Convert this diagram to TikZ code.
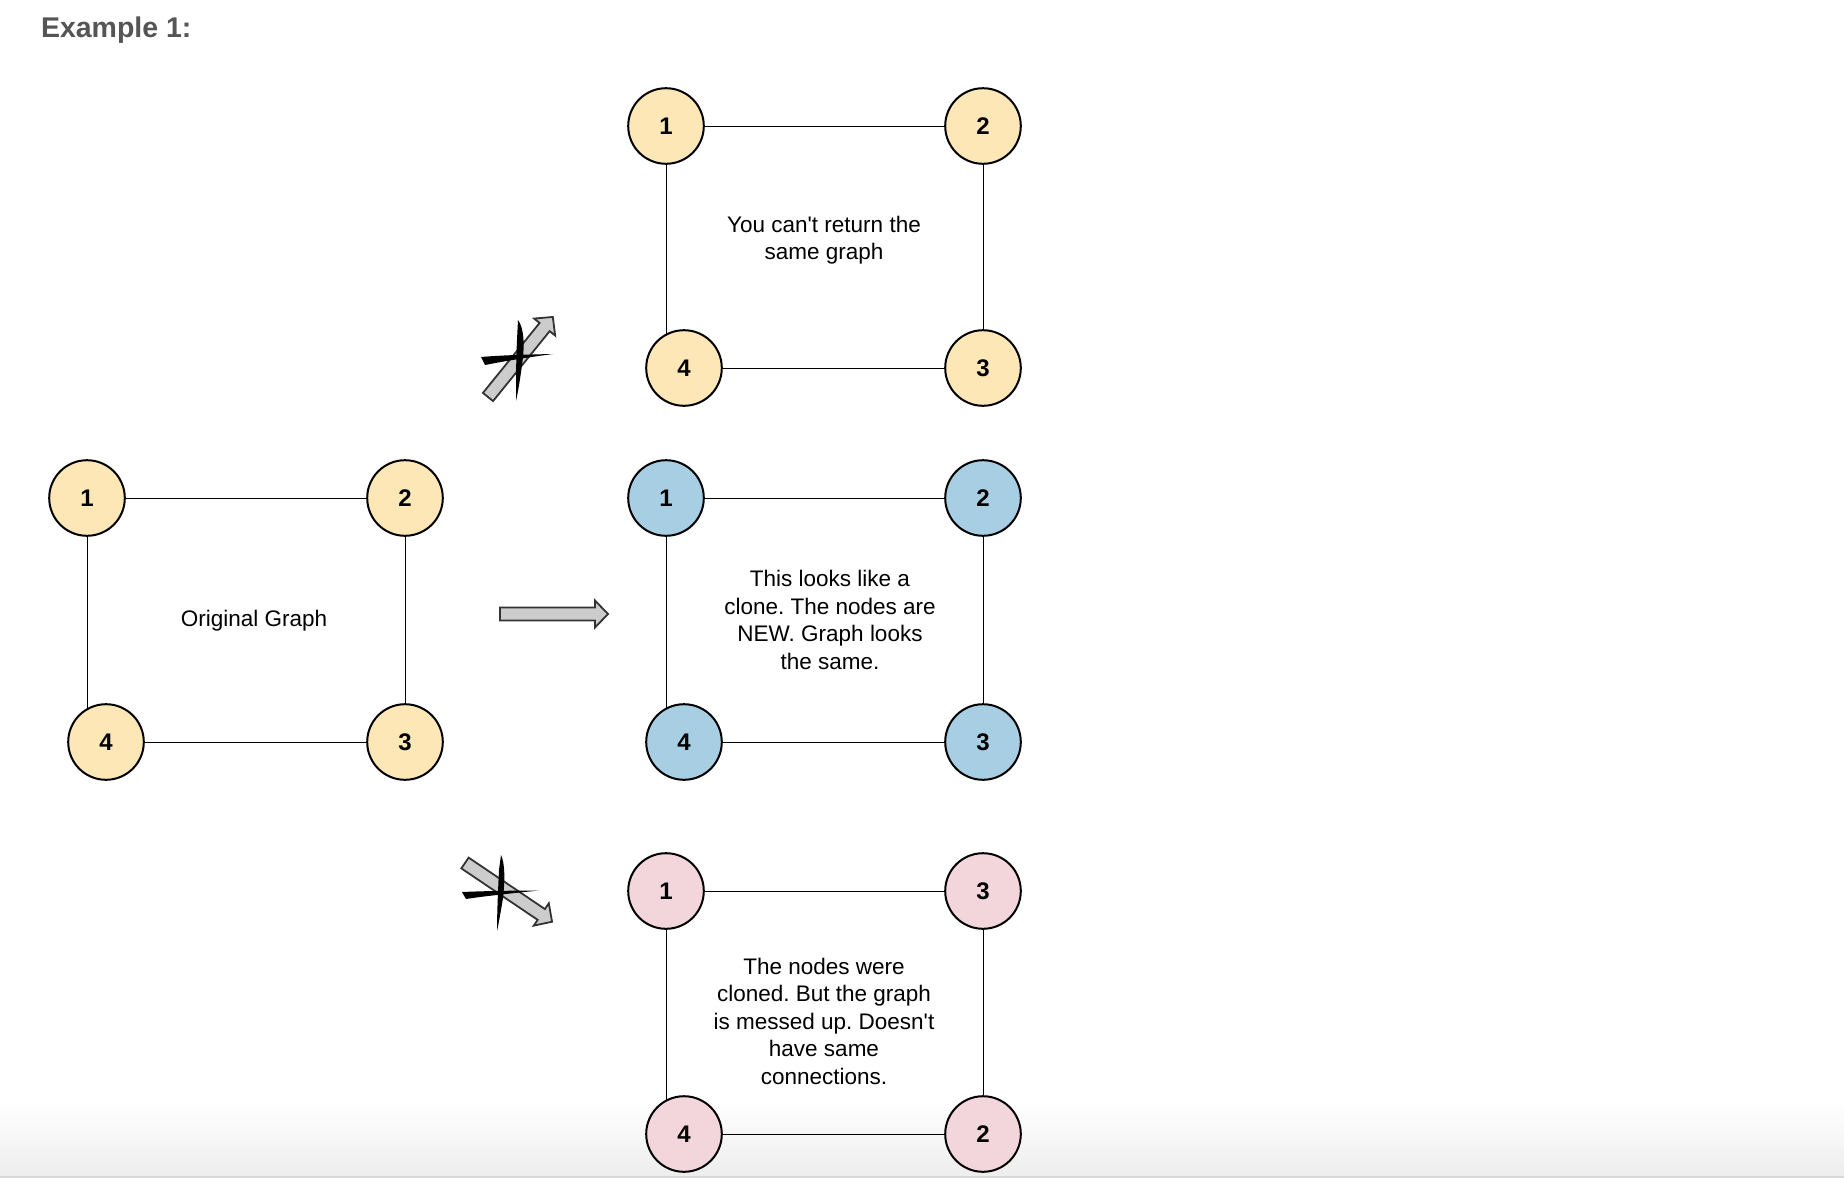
\documentclass[tikz,border=0pt]{standalone}
\usepackage{fontspec}
\setmainfont{Liberation Sans}
\usetikzlibrary{backgrounds}
\frenchspacing

\definecolor{oldYellow}{RGB}{253,231,183}
\definecolor{newBlue}{RGB}{168,206,228}
\definecolor{badPink}{RGB}{243,214,220}
\definecolor{arrowGray}{RGB}{204,204,204}
\definecolor{titleGray}{RGB}{85,85,85}

\tikzset{every picture/.style={line width=2pt}}
\tikzset{
  vnode/.style={circle, draw=black, line width=2pt, minimum size=75.6pt, inner sep=0pt,
    font=\fontsize{24}{24}\selectfont\bfseries},
  oldnode/.style={vnode, fill=oldYellow},
  newnode/.style={vnode, fill=newBlue},
  badnode/.style={vnode, fill=badPink},
  note/.style={align=center, inner sep=0pt, font=\fontsize{22.5}{27.5}\selectfont},
  pics/fatarrow/.style={code={
    \draw [fill=arrowGray, draw=black!80, line width=1.8pt, line join=miter]
      (0,-6.5) -- (#1-13,-6.5) -- (#1-13,-13.5) -- (#1,0) -- (#1-13,13.5) -- (#1-13,6.5) -- (0,6.5) -- cycle ;
  }}
}

\begin{document}
\begin{tikzpicture}[x=1pt,y=1pt,yscale=-1,xscale=1]
\useasboundingbox (0,0) rectangle (1844,1178);

% Title
\node (title) at (40,37) [anchor=base west, inner sep=0pt, text=titleGray, font=\fontsize{28.5}{28.5}\selectfont\bfseries] {Example 1:};

%Shape: Circle -- original graph
\node (o1) at (87,498) [oldnode] {1};
\node (o2) at (405,498) [oldnode] {2};
\node (o3) at (405,742) [oldnode] {3};
\node (o4) at (106,742) [oldnode] {4};
%Shape: Circle -- same graph
\node (s1) at (666,126) [oldnode] {1};
\node (s2) at (983,126) [oldnode] {2};
\node (s3) at (983,368) [oldnode] {3};
\node (s4) at (684,368) [oldnode] {4};
%Shape: Circle -- clone
\node (c1) at (666,498) [newnode] {1};
\node (c2) at (983,498) [newnode] {2};
\node (c3) at (983,742) [newnode] {3};
\node (c4) at (684,742) [newnode] {4};
%Shape: Circle -- wrong clone
\node (m1) at (666,891) [badnode] {1};
\node (m3) at (983,891) [badnode] {3};
\node (m2) at (983,1134) [badnode] {2};
\node (m4) at (684,1134) [badnode] {4};

% Text Node
\node (origtext) at (254,621) [note] {Original Graph};
% Text Node
\node (sametext) at (824,240) [note] {You can\textquotesingle t return the\\same graph};
% Text Node
\node (clonetext) at (830,620) [note] {This looks like a\\clone. The nodes are\\NEW. Graph looks\\the same.};
% Text Node
\node (badtext) at (824,1021) [note] {The nodes were\\cloned. But the graph\\is messed up. Doesn\textquotesingle t\\have same\\connections.};

%Block arrows
\pic at (500,614) {fatarrow=108};
\pic [rotate=51] at (488,397) {fatarrow=103};
\pic [rotate=-34] at (465,863) {fatarrow=105};

%Strokes crossing the arrows out
\fill (481,357) .. controls (505,355) and (530,354.5) .. (553,354) .. controls (530,357) and (505,361) .. (485,365) -- cycle ;
\fill (518,320) .. controls (524,328) and (525,345) .. (522,365) .. controls (520,380) and (518,392) .. (516,401) .. controls (516,385) and (516,360) .. (517,340) -- cycle ;
\fill (462,892) .. controls (485,891) and (515,890.5) .. (539,890.5) .. controls (515,893) and (485,896) .. (466,899) -- cycle ;
\fill (501,855) .. controls (505,863) and (505,880) .. (503,898) .. controls (501,910) and (499,922) .. (497,931) .. controls (497,915) and (498,890) .. (499,870) -- cycle ;

\begin{pgfonlayer}{background}
%page bottom
\shade [top color=white, bottom color=black!7] (0,1100) rectangle (1844,1176) ;
\fill [black!15] (0,1176) rectangle (1844,1178) ;
%Straight Lines
\draw (o1) -- (o2) ;
\draw (o2) -- (o3) ;
\draw (o4) -- (o3) ;
\draw (o1.center) -- (o1.center |- o4.center) ;
\draw (s1) -- (s2) ;
\draw (s2) -- (s3) ;
\draw (s4) -- (s3) ;
\draw (s1.center) -- (s1.center |- s4.center) ;
\draw (c1) -- (c2) ;
\draw (c2) -- (c3) ;
\draw (c4) -- (c3) ;
\draw (c1.center) -- (c1.center |- c4.center) ;
\draw (m1) -- (m3) ;
\draw (m3) -- (m2) ;
\draw (m4) -- (m2) ;
\draw (m1.center) -- (m1.center |- m4.center) ;
\end{pgfonlayer}

\end{tikzpicture}
\end{document}
